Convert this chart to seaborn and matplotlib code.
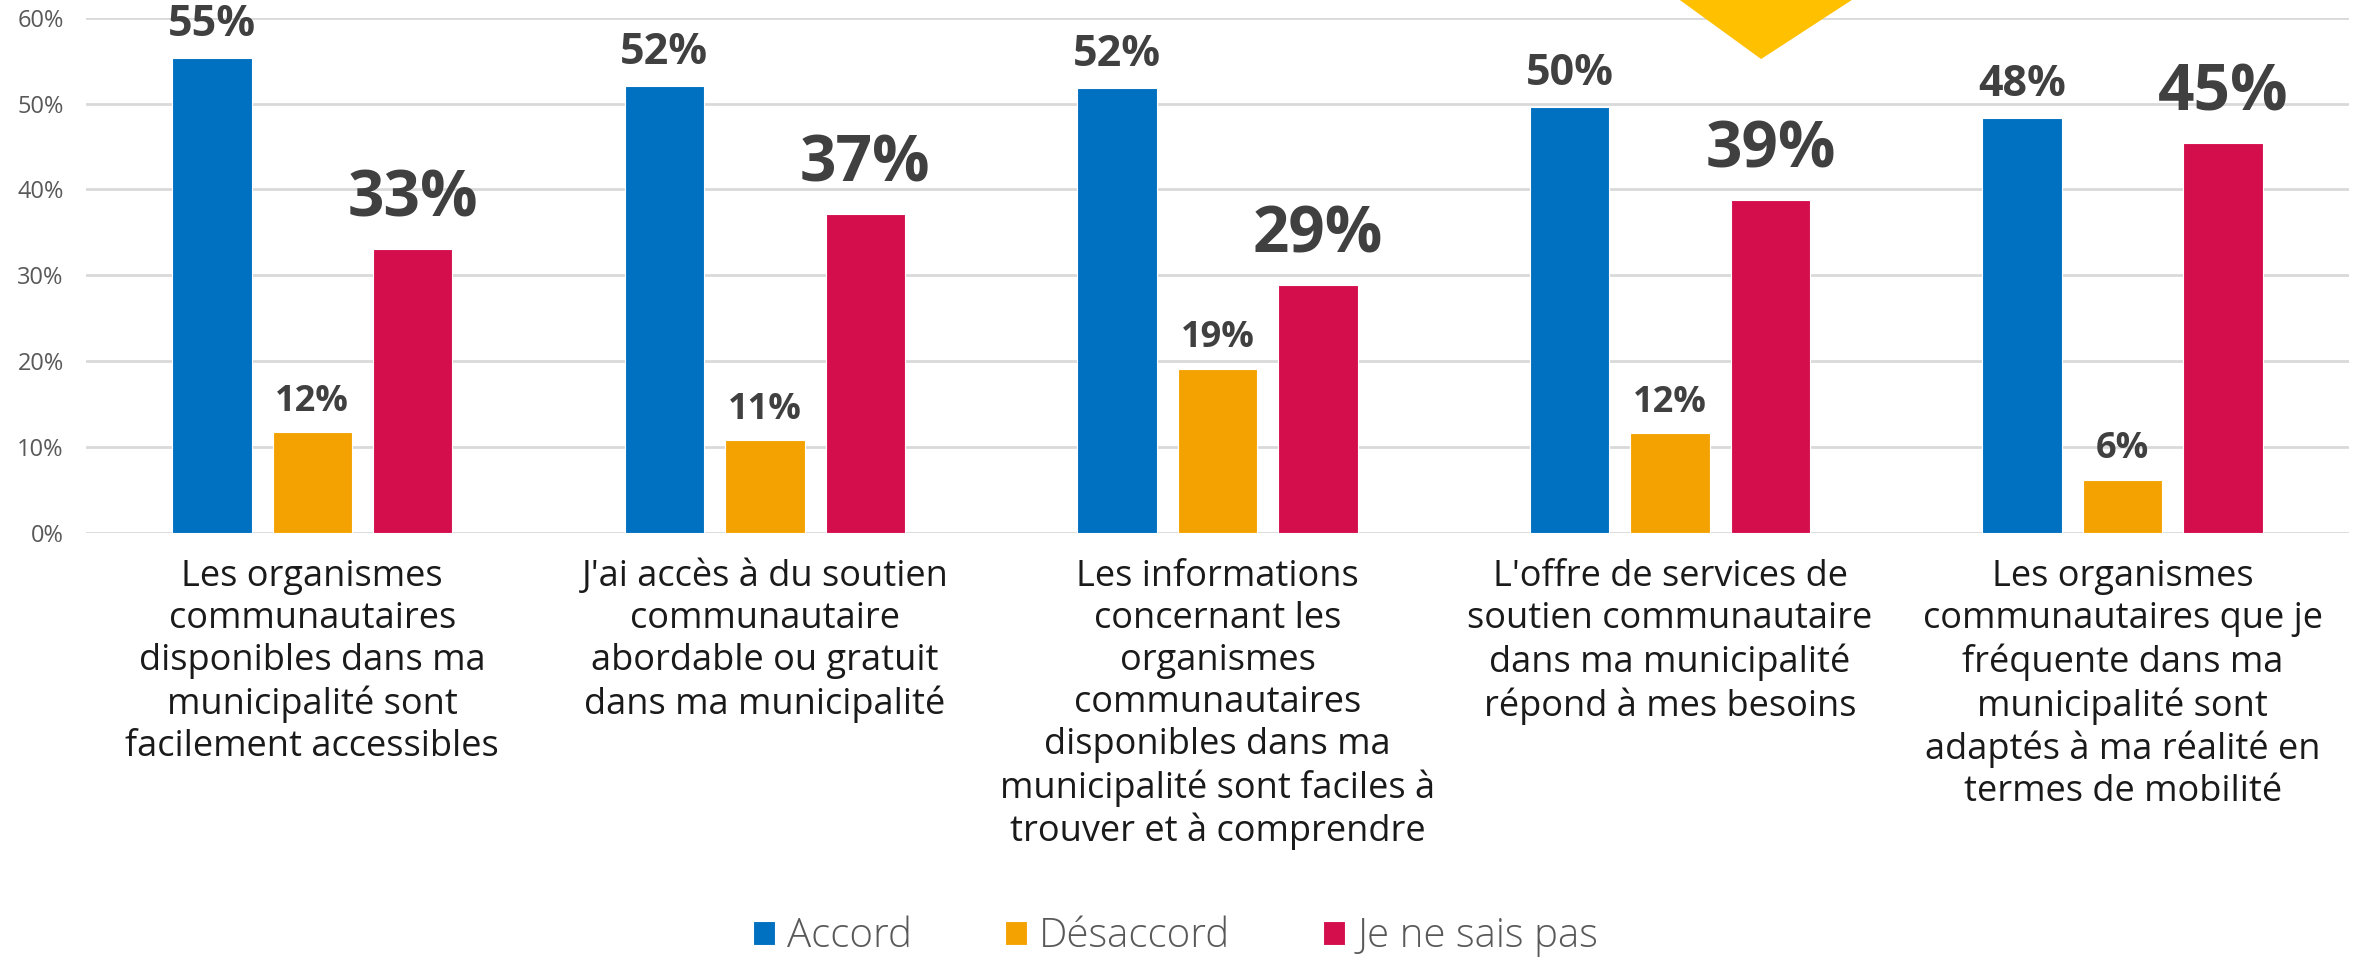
import matplotlib
matplotlib.use("Agg")
import matplotlib.pyplot as plt
import seaborn as sns
import pandas as pd
from matplotlib.patches import Polygon

# Données (en %)
categories = [
    "Les organismes\ncommunautaires\ndisponibles dans ma\nmunicipalité sont\nfacilement accessibles",
    "J'ai accès à du soutien\ncommunautaire\nabordable ou gratuit\ndans ma municipalité",
    "Les informations\nconcernant les\norganismes\ncommunautaires\ndisponibles dans ma\nmunicipalité sont faciles à\ntrouver et à comprendre",
    "L'offre de services de\nsoutien communautaire\ndans ma municipalité\nrépond à mes besoins",
    "Les organismes\ncommunautaires que je\nfréquente dans ma\nmunicipalité sont\nadaptés à ma réalité en\ntermes de mobilité",
]
series = ["Accord", "Désaccord", "Je ne sais pas"]
accord = [55.3, 52.0, 51.8, 49.6, 48.3]
desaccord = [11.7, 10.8, 19.1, 11.6, 6.2]
ne_sait_pas = [33.1, 37.1, 28.9, 38.8, 45.4]
yticks = [0, 10, 20, 30, 40, 50, 60]

colors = ["#0070C0", "#F4A202", "#D40E4D"]

df = pd.DataFrame({
    "categorie": categories * 3,
    "serie": [s for s in series for _ in categories],
    "valeur": accord + desaccord + ne_sait_pas,
})

sns.set_style("white")
plt.rcParams["font.family"] = ["Open Sans", "DejaVu Sans"]

fig = plt.figure(figsize=(23.56, 9.6), dpi=100)
ax = fig.add_axes([0.0365, 0.445, 0.9605, 0.5365])
ax.set_facecolor("none")

# Triangle décoratif jaune en haut
tri = Polygon([(0.713, 1.0), (0.786, 1.0), (0.7475, 0.9385)], closed=True,
              transform=fig.transFigure, facecolor="#FFC000", edgecolor="none", zorder=0)
fig.patches.append(tri)

sns.barplot(data=df, x="categorie", y="valeur", hue="serie", palette=colors,
            saturation=1, width=0.666, gap=0.21, ax=ax, edgecolor="white", linewidth=0.8)

ax.set_ylim(0, 60)
ax.set_yticks(yticks)
ax.set_yticklabels([f"{t}%" for t in yticks], fontsize=17, color="#595959")
ax.yaxis.grid(True, color="#D9D9D9", linewidth=2)
ax.set_axisbelow(True)
ax.tick_params(axis="y", length=0, pad=16)
ax.tick_params(axis="x", length=0, pad=19)
for lab in ax.get_xticklabels():
    lab.set_fontsize(26)
    lab.set_color("#1a1a1a")
    lab.set_linespacing(1.22)
ax.set_xlabel("")
ax.set_ylabel("")
sns.despine(ax=ax, left=True, bottom=True)

# Étiquettes de valeurs
sizes = [31, 26, 46]
pads = [9, 9, 12]
for cont, fs, pd_ in zip(ax.containers, sizes, pads):
    vals = [b.get_height() for b in cont]
    ax.bar_label(cont, labels=[f"{v:.0f}%" for v in vals], padding=pd_,
                 fontsize=fs, fontweight="bold", color="#404040")

handles, labels = ax.get_legend_handles_labels()
ax.get_legend().remove()
fig.legend(handles, labels, loc="center", bbox_to_anchor=(0.499, 0.024), ncol=3,
           frameon=False, prop={"size": 29, "weight": "light"}, handlelength=0.55,
           handleheight=0.55, handletextpad=0.3, columnspacing=2.3, labelcolor="#595959")

fig.savefig("out.png", dpi=100)
